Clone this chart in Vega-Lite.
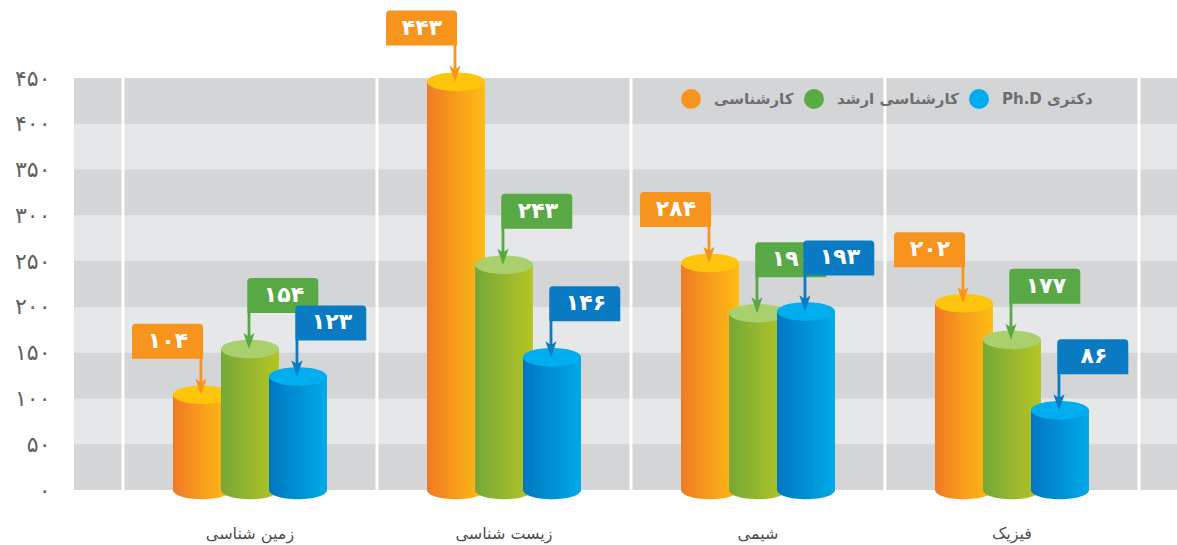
{
  "$schema": "https://vega.github.io/schema/vega-lite/v6.json",
  "width": 1103,
  "height": 412,
  "autosize": {"type": "none"},
  "padding": {"left": 74, "top": 78, "right": 0, "bottom": 55},
  "background": "white",
  "config": {"view": {"fill": "#e6e7e8", "stroke": null}, "font": "DejaVu Sans"},
  "datasets": {
    "edu": [
      {"cat": "زمین شناسی", "series": "کارشناسی", "value": 104, "label": "۱۰۴"},
      {"cat": "زمین شناسی", "series": "کارشناسی ارشد", "value": 154, "label": "۱۵۴"},
      {"cat": "زمین شناسی", "series": "Ph.D دکتری", "value": 124, "label": "۱۲۳"},
      {"cat": "زیست شناسی", "series": "کارشناسی", "value": 446, "label": "۴۴۳"},
      {"cat": "زیست شناسی", "series": "کارشناسی ارشد", "value": 246, "label": "۲۴۳"},
      {"cat": "زیست شناسی", "series": "Ph.D دکتری", "value": 145, "label": "۱۴۶"},
      {"cat": "شیمی", "series": "کارشناسی", "value": 248, "label": "۲۸۴"},
      {"cat": "شیمی", "series": "کارشناسی ارشد", "value": 193, "label": "۱۹۰"},
      {"cat": "شیمی", "series": "Ph.D دکتری", "value": 195, "label": "۱۹۳"},
      {"cat": "فیزیک", "series": "کارشناسی", "value": 204, "label": "۲۰۲"},
      {"cat": "فیزیک", "series": "کارشناسی ارشد", "value": 164, "label": "۱۷۷"},
      {"cat": "فیزیک", "series": "Ph.D دکتری", "value": 87, "label": "۸۶"}
    ],
    "bands": [
      {"lo": 0, "hi": 50},
      {"lo": 100, "hi": 150},
      {"lo": 200, "hi": 250},
      {"lo": 300, "hi": 350},
      {"lo": 400, "hi": 450}
    ]
  },
  "layer": [
    {
      "data": {"name": "bands"},
      "mark": {"type": "rect", "fill": "#d4d5d7"},
      "encoding": {
        "y": {"field": "lo", "type": "quantitative", "scale": {"domain": [0, 450], "nice": false},
          "axis": {"title": null, "domain": false, "ticks": false, "grid": false,
            "values": [0, 50, 100, 150, 200, 250, 300, 350, 400, 450],
            "labelFontSize": 22, "labelColor": "#5f6062", "labelPadding": 24, "labelFont": "DejaVu Sans",
            "labelExpr": "replace(replace(replace(replace(replace(replace(datum.label, regexp('0','g'), '۰'), regexp('1','g'), '۱'), regexp('2','g'), '۲'), regexp('3','g'), '۳'), regexp('4','g'), '۴'), regexp('5','g'), '۵')"}},
        "y2": {"field": "hi"}
      }
    },
    {
      "data": {"name": "edu"},
      "transform": [{"filter": "datum.series === 'کارشناسی'"}],
      "mark": {"type": "rule", "stroke": "white", "strokeWidth": 3},
      "encoding": {
        "x": {"field": "cat", "type": "nominal", "sort": ["زمین شناسی", "زیست شناسی", "شیمی", "فیزیک"], "bandPosition": 0,
          "scale": {"paddingInner": 0, "paddingOuter": 0.1713, "align": 0.563},
          "axis": {"title": null, "domain": false, "ticks": false, "grid": false, "bandPosition": 0.5, "labelAngle": 0, "labelFontSize": 16, "labelColor": "#4d4d4f", "labelPadding": 35, "labelFont": "DejaVu Sans"}}
      }
    },
    {
      "data": {"name": "edu"},
      "transform": [{"filter": "datum.series === 'کارشناسی' && datum.cat === 'فیزیک'"}],
      "mark": {"type": "rule", "stroke": "white", "strokeWidth": 3},
      "encoding": {
        "x": {"field": "cat", "type": "nominal", "sort": ["زمین شناسی", "زیست شناسی", "شیمی", "فیزیک"], "bandPosition": 1}
      }
    },
    {
      "data": {"name": "edu"},
      "transform": [{"filter": "datum.series === 'کارشناسی'"}],
      "mark": {"type": "bar", "width": 58, "xOffset": -48,
        "fill": {"gradient": "linear", "x1": 0, "y1": 0, "x2": 1, "y2": 0,
          "stops": [{"offset": 0, "color": "#f07a24"}, {"offset": 0.5, "color": "#f89d1c"}, {"offset": 1, "color": "#fdbd12"}]}},
      "encoding": {
        "x": {"field": "cat", "type": "nominal", "sort": ["زمین شناسی", "زیست شناسی", "شیمی", "فیزیک"]},
        "y": {"field": "value", "type": "quantitative"}
      }
    },
    {
      "data": {"name": "edu"},
      "transform": [{"filter": "datum.series === 'کارشناسی'"}],
      "mark": {"type": "point", "filled": true, "opacity": 1, "size": 3364, "xOffset": -48, "strokeWidth": 0,
        "shape": "M-1,-0.03 L1,-0.03 L1,0 C1,0.177 0.552,0.32 0,0.32 C-0.552,0.32 -1,0.177 -1,0 Z",
        "fill": {"gradient": "linear", "x1": 0, "y1": 0, "x2": 1, "y2": 0,
          "stops": [{"offset": 0, "color": "#f07a24"}, {"offset": 0.5, "color": "#f89d1c"}, {"offset": 1, "color": "#fdbd12"}]}},
      "encoding": {
        "x": {"field": "cat", "type": "nominal", "sort": ["زمین شناسی", "زیست شناسی", "شیمی", "فیزیک"]},
        "y": {"datum": 0, "type": "quantitative"}
      }
    },
    {
      "data": {"name": "edu"},
      "transform": [{"filter": "datum.series === 'کارشناسی'"}],
      "mark": {"type": "point", "filled": true, "opacity": 1, "size": 3364, "xOffset": -48, "strokeWidth": 0, "fill": "#ffc40c",
        "shape": "M-1,0 C-1,-0.177 -0.552,-0.32 0,-0.32 C0.552,-0.32 1,-0.177 1,0 C1,0.177 0.552,0.32 0,0.32 C-0.552,0.32 -1,0.177 -1,0 Z"},
      "encoding": {
        "x": {"field": "cat", "type": "nominal", "sort": ["زمین شناسی", "زیست شناسی", "شیمی", "فیزیک"]},
        "y": {"field": "value", "type": "quantitative"}
      }
    },
    {
      "data": {"name": "edu"},
      "transform": [{"filter": "datum.series === 'کارشناسی ارشد'"}],
      "mark": {"type": "bar", "width": 58, "xOffset": 0,
        "fill": {"gradient": "linear", "x1": 0, "y1": 0, "x2": 1, "y2": 0,
          "stops": [{"offset": 0, "color": "#76a836"}, {"offset": 1, "color": "#b4c526"}]}},
      "encoding": {
        "x": {"field": "cat", "type": "nominal", "sort": ["زمین شناسی", "زیست شناسی", "شیمی", "فیزیک"]},
        "y": {"field": "value", "type": "quantitative"}
      }
    },
    {
      "data": {"name": "edu"},
      "transform": [{"filter": "datum.series === 'کارشناسی ارشد'"}],
      "mark": {"type": "point", "filled": true, "opacity": 1, "size": 3364, "xOffset": 0, "strokeWidth": 0,
        "shape": "M-1,-0.03 L1,-0.03 L1,0 C1,0.177 0.552,0.32 0,0.32 C-0.552,0.32 -1,0.177 -1,0 Z",
        "fill": {"gradient": "linear", "x1": 0, "y1": 0, "x2": 1, "y2": 0,
          "stops": [{"offset": 0, "color": "#76a836"}, {"offset": 1, "color": "#b4c526"}]}},
      "encoding": {
        "x": {"field": "cat", "type": "nominal", "sort": ["زمین شناسی", "زیست شناسی", "شیمی", "فیزیک"]},
        "y": {"datum": 0, "type": "quantitative"}
      }
    },
    {
      "data": {"name": "edu"},
      "transform": [{"filter": "datum.series === 'کارشناسی ارشد'"}],
      "mark": {"type": "point", "filled": true, "opacity": 1, "size": 3364, "xOffset": 0, "strokeWidth": 0, "fill": "#a9d06d",
        "shape": "M-1,0 C-1,-0.177 -0.552,-0.32 0,-0.32 C0.552,-0.32 1,-0.177 1,0 C1,0.177 0.552,0.32 0,0.32 C-0.552,0.32 -1,0.177 -1,0 Z"},
      "encoding": {
        "x": {"field": "cat", "type": "nominal", "sort": ["زمین شناسی", "زیست شناسی", "شیمی", "فیزیک"]},
        "y": {"field": "value", "type": "quantitative"}
      }
    },
    {
      "data": {"name": "edu"},
      "transform": [{"filter": "datum.series === 'Ph.D دکتری'"}],
      "mark": {"type": "bar", "width": 58, "xOffset": 48,
        "fill": {"gradient": "linear", "x1": 0, "y1": 0, "x2": 1, "y2": 0,
          "stops": [{"offset": 0, "color": "#0077c0"}, {"offset": 1, "color": "#00aae8"}]}},
      "encoding": {
        "x": {"field": "cat", "type": "nominal", "sort": ["زمین شناسی", "زیست شناسی", "شیمی", "فیزیک"]},
        "y": {"field": "value", "type": "quantitative"}
      }
    },
    {
      "data": {"name": "edu"},
      "transform": [{"filter": "datum.series === 'Ph.D دکتری'"}],
      "mark": {"type": "point", "filled": true, "opacity": 1, "size": 3364, "xOffset": 48, "strokeWidth": 0,
        "shape": "M-1,-0.03 L1,-0.03 L1,0 C1,0.177 0.552,0.32 0,0.32 C-0.552,0.32 -1,0.177 -1,0 Z",
        "fill": {"gradient": "linear", "x1": 0, "y1": 0, "x2": 1, "y2": 0,
          "stops": [{"offset": 0, "color": "#0077c0"}, {"offset": 1, "color": "#00aae8"}]}},
      "encoding": {
        "x": {"field": "cat", "type": "nominal", "sort": ["زمین شناسی", "زیست شناسی", "شیمی", "فیزیک"]},
        "y": {"datum": 0, "type": "quantitative"}
      }
    },
    {
      "data": {"name": "edu"},
      "transform": [{"filter": "datum.series === 'Ph.D دکتری'"}],
      "mark": {"type": "point", "filled": true, "opacity": 1, "size": 3364, "xOffset": 48, "strokeWidth": 0, "fill": "#00adee",
        "shape": "M-1,0 C-1,-0.177 -0.552,-0.32 0,-0.32 C0.552,-0.32 1,-0.177 1,0 C1,0.177 0.552,0.32 0,0.32 C-0.552,0.32 -1,0.177 -1,0 Z"},
      "encoding": {
        "x": {"field": "cat", "type": "nominal", "sort": ["زمین شناسی", "زیست شناسی", "شیمی", "فیزیک"]},
        "y": {"field": "value", "type": "quantitative"}
      }
    },
    {
      "data": {"name": "edu"},
      "transform": [{"filter": "datum.series === 'کارشناسی'"}],
      "mark": {"type": "point", "filled": true, "opacity": 1, "size": 4900, "xOffset": -49, "strokeWidth": 0, "fill": "#f7941d",
        "shape": "M-1.97,-1.03 L-1.97,-1.92 Q-1.97,-2.03 -1.86,-2.03 L-0.05,-2.03 Q0.06,-2.03 0.06,-1.92 L0.06,-1.03 Z M-0.04,-1.06 L0.04,-1.06 L0.04,-0.3 L-0.04,-0.3 Z M0,0 L-0.16,-0.46 L0,-0.35 L0.16,-0.46 Z"},
      "encoding": {
        "x": {"field": "cat", "type": "nominal", "sort": ["زمین شناسی", "زیست شناسی", "شیمی", "فیزیک"]},
        "y": {"field": "value", "type": "quantitative"}
      }
    },
    {
      "data": {"name": "edu"},
      "transform": [{"filter": "datum.series === 'کارشناسی'"}],
      "mark": {"type": "text", "xOffset": -49, "dx": -33, "dy": -54, "fontSize": 22, "fontWeight": "bold", "fill": "white", "align": "center", "baseline": "middle", "font": "DejaVu Sans"},
      "encoding": {
        "x": {"field": "cat", "type": "nominal", "sort": ["زمین شناسی", "زیست شناسی", "شیمی", "فیزیک"]},
        "y": {"field": "value", "type": "quantitative"},
        "text": {"field": "label"}
      }
    },
    {
      "data": {"name": "edu"},
      "transform": [{"filter": "datum.series === 'کارشناسی ارشد'"}],
      "mark": {"type": "point", "filled": true, "opacity": 1, "size": 4900, "xOffset": -1, "strokeWidth": 0, "fill": "#58a946",
        "shape": "M-0.05,-1.03 L-0.05,-1.92 Q-0.05,-2.03 0.06,-2.03 L1.87,-2.03 Q1.98,-2.03 1.98,-1.92 L1.98,-1.03 Z M-0.04,-1.06 L0.04,-1.06 L0.04,-0.3 L-0.04,-0.3 Z M0,0 L-0.16,-0.46 L0,-0.35 L0.16,-0.46 Z"},
      "encoding": {
        "x": {"field": "cat", "type": "nominal", "sort": ["زمین شناسی", "زیست شناسی", "شیمی", "فیزیک"]},
        "y": {"field": "value", "type": "quantitative"}
      }
    },
    {
      "data": {"name": "edu"},
      "transform": [{"filter": "datum.series === 'کارشناسی ارشد'"}],
      "mark": {"type": "text", "xOffset": -1, "dx": 35, "dy": -54, "fontSize": 22, "fontWeight": "bold", "fill": "white", "align": "center", "baseline": "middle", "font": "DejaVu Sans"},
      "encoding": {
        "x": {"field": "cat", "type": "nominal", "sort": ["زمین شناسی", "زیست شناسی", "شیمی", "فیزیک"]},
        "y": {"field": "value", "type": "quantitative"},
        "text": {"field": "label"}
      }
    },
    {
      "data": {"name": "edu"},
      "transform": [{"filter": "datum.series === 'Ph.D دکتری'"}],
      "mark": {"type": "point", "filled": true, "opacity": 1, "size": 4900, "xOffset": 47, "strokeWidth": 0, "fill": "#0a7bc3",
        "shape": "M-0.05,-1.03 L-0.05,-1.92 Q-0.05,-2.03 0.06,-2.03 L1.87,-2.03 Q1.98,-2.03 1.98,-1.92 L1.98,-1.03 Z M-0.04,-1.06 L0.04,-1.06 L0.04,-0.3 L-0.04,-0.3 Z M0,0 L-0.16,-0.46 L0,-0.35 L0.16,-0.46 Z"},
      "encoding": {
        "x": {"field": "cat", "type": "nominal", "sort": ["زمین شناسی", "زیست شناسی", "شیمی", "فیزیک"]},
        "y": {"field": "value", "type": "quantitative"}
      }
    },
    {
      "data": {"name": "edu"},
      "transform": [{"filter": "datum.series === 'Ph.D دکتری'"}],
      "mark": {"type": "text", "xOffset": 47, "dx": 35, "dy": -54, "fontSize": 22, "fontWeight": "bold", "fill": "white", "align": "center", "baseline": "middle", "font": "DejaVu Sans"},
      "encoding": {
        "x": {"field": "cat", "type": "nominal", "sort": ["زمین شناسی", "زیست شناسی", "شیمی", "فیزیک"]},
        "y": {"field": "value", "type": "quantitative"},
        "text": {"field": "label"}
      }
    },
    {
      "data": {"name": "edu"},
      "mark": {"type": "point", "filled": true, "opacity": 0},
      "encoding": {
        "x": {"field": "cat", "type": "nominal", "sort": ["زمین شناسی", "زیست شناسی", "شیمی", "فیزیک"]},
        "y": {"field": "value", "type": "quantitative"},
        "color": {"field": "series", "type": "nominal",
          "scale": {"domain": ["کارشناسی", "کارشناسی ارشد", "Ph.D دکتری"], "range": ["#f7941d", "#5aab46", "#00aeef"]},
          "legend": {"orient": "none", "legendX": 607, "legendY": 11, "direction": "horizontal", "title": null,
            "symbolType": "circle", "symbolSize": 400, "symbolOpacity": 1, "symbolStrokeWidth": 0,
            "labelFont": "DejaVu Sans", "labelFontSize": 15, "labelFontWeight": "bold", "labelColor": "#6d6e71",
            "labelOffset": 13, "columnPadding": 10}}
      }
    }
  ]
}
